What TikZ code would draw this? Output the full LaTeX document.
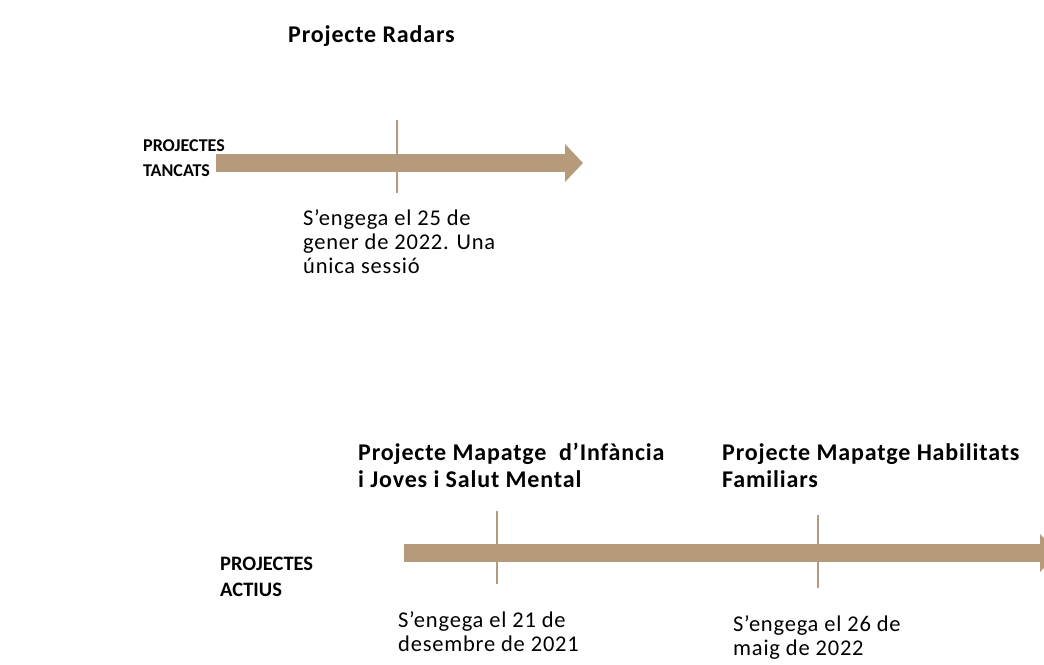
\documentclass[tikz,border=0pt]{standalone}
\usepackage{fontspec}
\setmainfont{Carlito}[LetterSpace=3.5]
\newfontfamily\capsfont{Carlito}
\usetikzlibrary{arrows.meta, positioning}
\definecolor{bronze}{RGB}{181,154,124}

\begin{document}
\begin{tikzpicture}[x=1pt, y=-1pt, >=Triangle,
    timeline/.style={draw=bronze, line width=18pt, -{Triangle[length=18pt, width=37pt]}},
    milestone/.style={draw=bronze, line width=1.3pt},
    txt/.style={inner sep=0pt, anchor=north west, align=left, font=\fontsize{22.5}{24}\selectfont},
    head/.style={txt, font=\fontsize{24}{27}\selectfont\bfseries},
    group/.style={txt, font=\capsfont\bfseries\fontsize{#1}{25.5}\selectfont}]
  \useasboundingbox (0,0) rectangle (1044,664);
  \clip (0,0) rectangle (1044,664);

  % closed projects
  \coordinate (T0) at (216,163);
  \coordinate (T1) at (583,163);
  \draw[timeline] (T0) -- (T1);
  \coordinate (K1a) at (397,120);
  \coordinate (K1b) at (397,193);
  \draw[milestone] (K1a) -- (K1b);
  \node[group=18] (closed) at (143,139) {PROJECTES\\TANCATS};
  \node[head] (radars) at (288,25) {Projecte Radars};
  \node[txt] (radarsD) at (303,209) {S’engega el 25 de\\gener de 2022. Una\\única sessió};

  % active projects
  \coordinate (A0) at (404,553);
  \coordinate (A1) at (1058,553);
  \draw[timeline] (A0) -- (A1);
  \coordinate (K2a) at (497,511);
  \coordinate (K2b) at (497,584);
  \draw[milestone] (K2a) -- (K2b);
  \coordinate (K3a) at (818,515);
  \coordinate (K3b) at (818,588);
  \draw[milestone] (K3a) -- (K3b);
  \node[group=20.5] (active) at (220,557) {PROJECTES\\ACTIUS};
  \node[head] (infancia) at (358,443) {Projecte Mapatge~ d’Infància\\i Joves i Salut Mental};
  \node[head] (habitats) at (722,443) {Projecte Mapatge Habilitats\\Familiars};
  \node[txt] (infanciaD) at (398,611) {S’engega el 21 de\\desembre de 2021};
  \node[txt] (habitatsD) at (733,615) {S’engega el 26 de\\maig de 2022};
\end{tikzpicture}
\end{document}
